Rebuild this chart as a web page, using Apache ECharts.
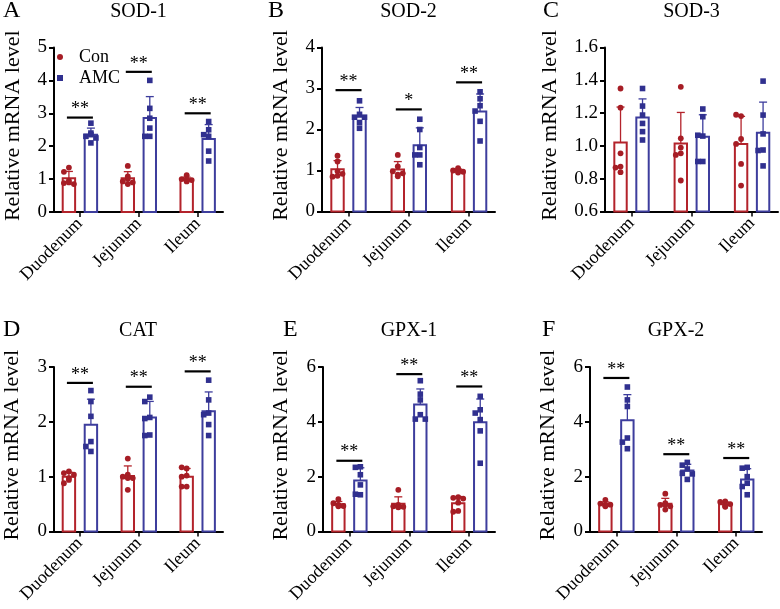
<!DOCTYPE html>
<html>
<head>
<meta charset="utf-8">
<script src="https://cdn.jsdelivr.net/npm/echarts@6/dist/echarts.min.js"></script>
<style>
  html, body { margin: 0; padding: 0; background: #fff; }
  #chart { width: 780px; height: 609px; }
</style>
</head>
<body>
<div id="chart"></div>
<script>
var categories = ['Duodenum', 'Jejunum', 'Ileum'];

// replicates per tissue (Duodenum, Jejunum, Ileum), n = 6
var sod1Con = [[1.35, 1.22, 0.95, 0.88, 0.85, 0.90], [1.40, 1.08, 0.93, 0.85, 0.90, 1.00], [1.12, 1.00, 0.95, 0.97, 0.93, 0.98]];
var sod1Amc = [[2.70, 2.35, 2.30, 2.10, 2.25, 2.40], [4.00, 3.15, 2.85, 2.55, 2.30, 2.30], [2.75, 2.50, 2.30, 2.35, 1.85, 1.55]];
var sod2Con = [[1.36, 1.22, 0.98, 0.85, 0.92, 0.87], [1.38, 1.10, 0.98, 0.86, 0.93, 0.90], [1.06, 1.00, 0.97, 0.95, 0.98, 1.02]];
var sod2Amc = [[2.70, 2.37, 2.30, 2.03, 2.17, 2.30], [2.25, 2.00, 1.56, 1.38, 1.38, 1.14], [2.92, 2.75, 2.58, 2.45, 2.20, 1.72]];
var sod3Con = [[1.35, 1.233, 0.955, 0.874, 0.868, 0.84], [1.36, 1.046, 0.99, 0.955, 0.945, 0.789], [1.182, 1.19, 1.042, 1.012, 0.89, 0.758]];
var sod3Amc = [[1.35, 1.243, 1.188, 1.137, 1.087, 1.036], [1.225, 1.178, 1.06, 1.065, 0.905, 0.905], [1.395, 1.188, 1.073, 0.975, 0.972, 0.878]];
var catCon = [[1.095, 1.065, 1.035, 0.975, 0.88, 0.94], [1.33, 1.035, 1.0, 0.975, 0.975, 0.76], [1.15, 1.17, 1.02, 1.0, 0.82, 0.82]];
var catAmc = [[2.57, 2.37, 2.10, 1.64, 1.55, 1.46], [2.45, 2.37, 2.08, 2.06, 1.76, 1.75], [2.76, 2.40, 2.16, 2.13, 1.95, 1.75]];
var gpx1Con = [[1.18, 1.03, 0.97, 0.93, 0.96, 0.92], [1.52, 0.97, 0.92, 0.90, 0.90, 0.88], [1.25, 1.23, 1.20, 1.05, 0.75, 0.72]];
var gpx1Amc = [[2.36, 2.34, 2.07, 1.70, 1.34, 1.36], [5.50, 5.01, 4.80, 4.26, 4.10, 4.10], [4.93, 4.44, 4.32, 4.08, 3.67, 2.49]];
var gpx2Con = [[1.15, 1.02, 0.98, 0.95, 0.92, 0.97], [1.38, 1.03, 0.97, 0.92, 0.80, 0.98], [1.10, 1.08, 1.00, 0.92, 0.90, 0.95]];
var gpx2Amc = [[5.27, 4.80, 4.56, 3.41, 3.26, 3.02], [2.52, 2.42, 2.28, 2.12, 2.10, 1.90], [2.34, 2.31, 2.00, 1.76, 1.64, 1.34]];

// significance bar heights and marks
var sod1Sig = [2.87, 4.26, 3.0], sod1Stars = ['**', '**', '**'];
var sod2Sig = [2.96, 2.49, 3.15], sod2Stars = ['**', '*', '**'];
var catSig = [2.71, 2.64, 2.92], catStars = ['**', '**', '**'];
var gpx1Sig = [2.58, 5.74, 5.29], gpx1Stars = ['**', '**', '**'];
var gpx2Sig = [5.6, 2.82, 2.68], gpx2Stars = ['**', '**', '**'];

// y axis ranges [min, max, step]
var sod1Ticks = [0, 5, 1], sod2Ticks = [0, 4, 1], sod3Ticks = [0.6, 1.6, 0.2];
var catTicks = [0, 3, 1], gpx1Ticks = [0, 6, 2], gpx2Ticks = [0, 6, 2];

var panels = [
  { letter: 'A', title: 'SOD-1', con: sod1Con, amc: sod1Amc, sig: sod1Sig, stars: sod1Stars, ticks: sod1Ticks, box: [54, 47.5, 169, 164.5], lx: 3, gap: 30 },
  { letter: 'B', title: 'SOD-2', con: sod2Con, amc: sod2Amc, sig: sod2Sig, stars: sod2Stars, ticks: sod2Ticks, box: [322, 47.5, 173, 164], lx: 268, gap: 30 },
  { letter: 'C', title: 'SOD-3', con: sod3Con, amc: sod3Amc, sig: null, stars: null, ticks: sod3Ticks, box: [605, 47.5, 173, 164], lx: 543, gap: 44 },
  { letter: 'D', title: 'CAT', con: catCon, amc: catAmc, sig: catSig, stars: catStars, ticks: catTicks, box: [53, 367, 170, 164.5], lx: 3, gap: 31 },
  { letter: 'E', title: 'GPX-1', con: gpx1Con, amc: gpx1Amc, sig: gpx1Sig, stars: gpx1Stars, ticks: gpx1Ticks, box: [323, 367, 172, 164.5], lx: 283, gap: 31 },
  { letter: 'F', title: 'GPX-2', con: gpx2Con, amc: gpx2Amc, sig: gpx2Sig, stars: gpx2Stars, ticks: gpx2Ticks, box: [590, 367, 172, 164.5], lx: 542, gap: 31 }
];

var FONT = 'Liberation Serif';
var RED = '#b3232b', BLUE = '#3d3d9d';
var RED_DOT = '#a61d25', BLUE_DOT = '#30308f';

function mean(a) { var s = 0; a.forEach(function (v) { s += v; }); return s / a.length; }
function sd(a) {
  var m = mean(a), s = 0;
  a.forEach(function (v) { s += (v - m) * (v - m); });
  return Math.sqrt(s / (a.length - 1));
}

// bar + SD + dots for one group
function groupSeries(p, idx, rows, side) {
  var color = side ? BLUE : RED;
  var dot = side ? BLUE_DOT : RED_DOT;
  var base = p.ticks[0];
  return {
    type: 'custom',
    name: side ? 'AMC' : 'Con',
    xAxisIndex: idx,
    yAxisIndex: idx,
    z: 3,
    silent: true,
    data: rows.map(function (pts, i) { return [i, mean(pts), sd(pts)].concat(pts); }),
    renderItem: function (params, api) {
      var x = api.value(0), m = api.value(1), s = api.value(2);
      var top = api.coord([x, m]);
      var cx = top[0] + (side ? 11 : -11);
      var y0 = api.coord([x, base])[1];
      var yErr = api.coord([x, m + s])[1];
      var children = [
        { type: 'rect', shape: { x: cx - 6.2, y: top[1], width: 12.4, height: y0 - top[1] },
          style: { fill: '#fff', stroke: color, lineWidth: 2 } },
        { type: 'rect', shape: { x: cx - 0.65, y: yErr, width: 1.3, height: top[1] - yErr }, style: { fill: color } },
        { type: 'rect', shape: { x: cx - 4, y: yErr - 0.65, width: 8, height: 1.3 }, style: { fill: color } }
      ];
      // simple swarm so that close points sit side by side
      var slots = [0, -5, 5, -2.5, 2.5, -7, 7];
      var placed = [];
      for (var k = 3; k < 9; k++) {
        var py = api.coord([x, api.value(k)])[1];
        var dx = 0;
        for (var j = 0; j < slots.length; j++) {
          var ok = placed.every(function (q) {
            return Math.abs(q[1] - py) >= 5.5 || Math.abs(q[0] - slots[j]) >= 5;
          });
          if (ok) { dx = slots[j]; break; }
        }
        placed.push([dx, py]);
        var px = cx + dx;
        if (side) {
          children.push({ type: 'rect', shape: { x: px - 2.8, y: py - 2.8, width: 5.6, height: 5.6 }, style: { fill: dot } });
        } else {
          children.push({ type: 'circle', shape: { cx: px, cy: py, r: 2.9 }, style: { fill: dot } });
        }
      }
      return { type: 'group', children: children };
    }
  };
}

function sigSeries(p, idx) {
  return {
    type: 'custom',
    xAxisIndex: idx,
    yAxisIndex: idx,
    z: 4,
    silent: true,
    data: p.sig.map(function (v, i) { return [i, v]; }),
    renderItem: function (params, api) {
      var c = api.coord([api.value(0), api.value(1)]);
      return {
        type: 'group',
        children: [
          { type: 'rect', shape: { x: c[0] - 13, y: c[1] - 1.1, width: 26, height: 2.2 }, style: { fill: '#000' } },
          { type: 'text', style: { text: p.stars[params.dataIndex], x: c[0], y: c[1] - 8,
            align: 'center', verticalAlign: 'middle',
            font: '18px "' + FONT + '"', fill: '#000' } }
        ]
      };
    }
  };
}

var grids = [], xAxes = [], yAxes = [], series = [], graphics = [];

panels.forEach(function (p, idx) {
  var b = p.box;
  grids.push({ left: b[0], top: b[1], width: b[2], height: b[3] });
  xAxes.push({
    gridIndex: idx, type: 'value', min: -0.44, max: 2.43,
    splitLine: { show: false },
    axisLine: { show: true, onZero: false, lineStyle: { color: '#000', width: 2 } },
    axisTick: { show: true, customValues: [0, 1, 2], length: 5, lineStyle: { color: '#000', width: 1.5 } },
    axisLabel: {
      customValues: [0, 1, 2], rotate: 45, margin: 9,
      fontFamily: FONT, fontSize: 18, color: '#000',
      formatter: function (v) { return categories[Math.round(v)]; }
    }
  });
  yAxes.push({
    gridIndex: idx, type: 'value', min: p.ticks[0], max: p.ticks[1], interval: p.ticks[2],
    splitLine: { show: false },
    axisLine: { show: true, onZero: false, lineStyle: { color: '#000', width: 2 } },
    axisTick: { show: true, length: 5, lineStyle: { color: '#000', width: 2 } },
    axisLabel: {
      margin: 7, fontFamily: FONT, fontSize: 19, color: '#000',
      formatter: function (v) { return p.ticks[2] < 1 ? v.toFixed(1) : String(v); }
    },
    name: 'Relative mRNA level', nameLocation: 'middle', nameGap: p.gap,
    nameTextStyle: { fontFamily: FONT, fontSize: 22, color: '#000', padding: [0, 0, 0, 8] }
  });
  series.push(groupSeries(p, idx, p.con, 0));
  series.push(groupSeries(p, idx, p.amc, 1));
  if (p.sig) series.push(sigSeries(p, idx));

  var ty = idx < 3 ? 12 : 331;
  graphics.push({ type: 'text', silent: true, style: { text: p.letter, x: p.lx, y: ty - 1,
    align: 'left', verticalAlign: 'middle',
    font: '24px "' + FONT + '"', fill: '#000' } });
  graphics.push({ type: 'text', silent: true, style: { text: p.title, x: b[0] + b[2] / 2, y: ty,
    align: 'center', verticalAlign: 'middle',
    font: '20px "' + FONT + '"', fill: '#000' } });
});

var myChart = echarts.init(document.getElementById('chart'));
myChart.setOption({
  animation: false,
  backgroundColor: '#fff',
  grid: grids,
  xAxis: xAxes,
  yAxis: yAxes,
  legend: {
    orient: 'vertical', left: 57, top: 48, padding: 0,
    itemWidth: 6, itemHeight: 6, itemGap: 3, selectedMode: false,
    textStyle: { fontFamily: FONT, fontSize: 18, color: '#000', padding: [0, 0, 0, 11] },
    data: [
      { name: 'Con', icon: 'circle', itemStyle: { color: RED_DOT, borderWidth: 0 } },
      { name: 'AMC', icon: 'path://M0,0L10,0L10,10L0,10Z', itemStyle: { color: BLUE_DOT, borderWidth: 0 } }
    ]
  },
  graphic: graphics,
  series: series
});
window.addEventListener('resize', function () { myChart.resize(); });
</script>
</body>
</html>
